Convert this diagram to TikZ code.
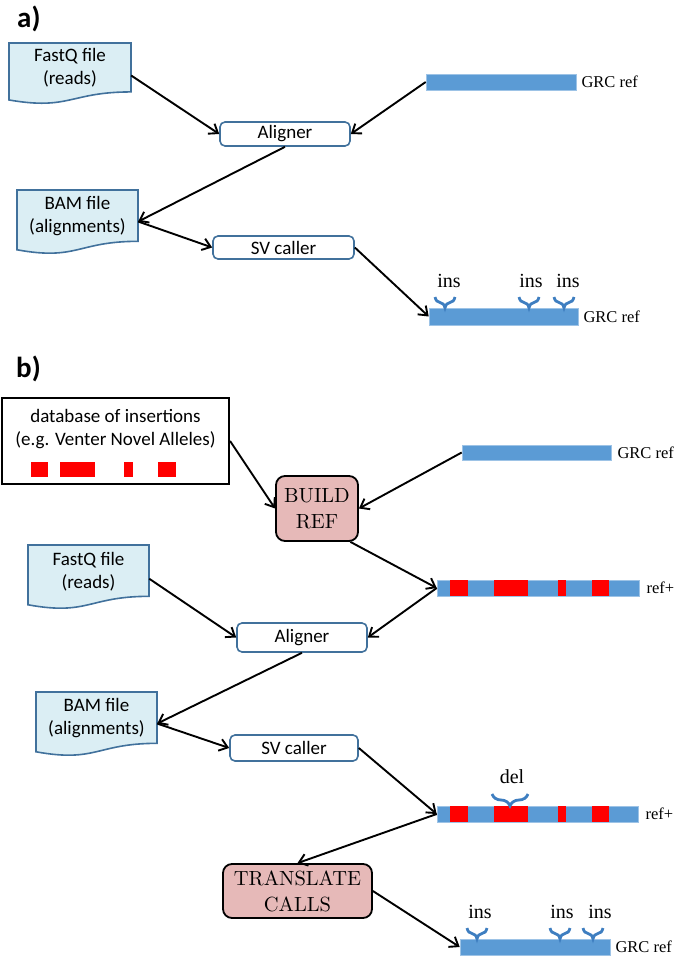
\documentclass[tikz,border=0pt]{standalone}
\usepackage{fontspec}
\usepackage{tikz}
\usetikzlibrary{arrows.meta, positioning, decorations.pathreplacing}

\newfontfamily\calibrifont{Carlito}
\newfontfamily\timesfont{Liberation Serif}
\newfontfamily\cmfont{lmroman10-regular}[Extension=.otf]

\definecolor{docblue}{HTML}{DBEEF4}
\definecolor{lineblue}{HTML}{41719C}
\definecolor{barblue}{HTML}{5B9BD5}
\definecolor{barline}{HTML}{9DC3E6}
\definecolor{bracecol}{HTML}{3E7EC0}
\definecolor{insred}{HTML}{FF0000}
\definecolor{steppink}{HTML}{E6B9B8}

\tikzset{
  docline/.style={draw=lineblue, fill=docblue, line width=1.6pt},
  doctext/.style={font=\calibrifont\fontsize{19}{23}\selectfont, align=center, inner sep=0pt},
  procbox/.style={draw=lineblue, fill=white, line width=1.6pt, rounded corners=5pt,
    font=\calibrifont\fontsize{19}{23}\selectfont, inner sep=0pt},
  stepbox/.style={draw=black, fill=steppink, line width=1.8pt, rounded corners=9pt,
    align=center, font=\cmfont\fontsize{20.5}{26}\selectfont, text=black, inner sep=0pt},
  refbar/.style={draw=barline, fill=barblue, line width=0.6pt, inner sep=0pt},
  barlabel/.style={font=\timesfont\fontsize{16.5}{18}\selectfont, inner sep=0pt},
  svlabel/.style={font=\timesfont\fontsize{20}{22}\selectfont, inner sep=0pt},
  svbrace/.style={draw=bracecol, line width=2.8pt, decorate, decoration={brace, mirror, amplitude=#1}},
  svbrace/.default=11pt,
  conn/.style={-{Straight Barb[length=8pt, width=12pt]}, line width=1.9pt},
  paneltag/.style={font=\calibrifont\bfseries\fontsize{29}{30}\selectfont, inner sep=0pt, anchor=west}
}

% document shape: name, left, top, width, height, text
\newcommand{\docfile}[6]{%
  \draw[docline] (#2,#3) -- ({#2+#4},#3) -- ({#2+#4},{#3+0.802*#5})
    .. controls ({#2+0.5*#4},{#3+0.802*#5}) and ({#2+0.5*#4},{#3+1.107*#5}) .. (#2,{#3+0.934*#5}) -- cycle;
  \node[doctext, minimum width=#4pt, minimum height={0.8*#5pt}] (#1) at ({#2+0.5*#4},{#3+0.41*#5}) {#6};
}

\begin{document}
\begin{tikzpicture}[x=1pt, y=-1pt]

\useasboundingbox (0,0) rectangle (680,957);

%%%%%%%%%% panel a %%%%%%%%%%
\node[paneltag] (taga) at (17,19) {a)};

% inputs
\docfile{fqa}{9}{43}{122}{61}{FastQ file\\(reads)}
\docfile{bama}{17}{190}{121}{64}{BAM file\\(alignments)}

% tools
\node[procbox, minimum width=130pt, minimum height=24pt] (aligna) at (285,134) {Aligner};
\node[procbox, minimum width=141pt, minimum height=23pt] (sva) at (283.5,247.5) {SV caller};

% reference bars
\node[refbar, minimum width=150pt, minimum height=16pt] (gra1) at (501,82) {};
\node[barlabel, anchor=west, right=5pt of gra1] (gra1lab) {GRC ref};
\node[refbar, minimum width=149pt, minimum height=17pt] (gra2) at (503.5,316.5) {};
\node[barlabel, anchor=west, right=5pt of gra2] (gra2lab) {GRC ref};

% insertion calls
\foreach \xb/\xl [count=\i] in {445/449, 529/531, 564/568} {
  \draw[svbrace] ({\xb-10},297) -- ({\xb+10},297);
  \node[svlabel] (insa\i) at (\xl,281) {ins};
}

% connectors
\draw[conn] (fqa.-7) -- (aligna.west);
\draw[conn] (gra1.west) -- (aligna.east);
\draw[conn] (aligna.south) -- (bama.-5);
\draw[conn] (bama.-5) -- (sva.west);
\draw[conn] (sva.east) -- (gra2.west);

%%%%%%%%%% panel b %%%%%%%%%%
\node[paneltag] (tagb) at (16,369) {b)};

% insertion database
\node[draw=black, line width=2.2pt, minimum width=227pt, minimum height=86pt] (db) at (115.5,441) {};
\node[doctext] (dbtext) at (115.5,429.5) {database of insertions\\(e.g. Venter Novel Alleles)};
\foreach \xa/\xb in {31/48, 60/95, 124/133, 158/176}
  \fill[insred] (\xa,462) rectangle (\xb,477);

% build step
\node[stepbox, minimum width=82pt, minimum height=65pt] (build) at (317,508.5) {BUILD\\REF};

% inputs
\docfile{fqb}{28}{545}{121}{64}{FastQ file\\(reads)}
\docfile{bamb}{36}{692}{121}{64}{BAM file\\(alignments)}

% tools
\node[procbox, minimum width=130pt, minimum height=29pt] (alignb) at (302,637.5) {Aligner};
\node[procbox, minimum width=128pt, minimum height=26pt] (svb) at (294,748) {SV caller};

% translate step
\node[stepbox, minimum width=149pt, minimum height=54pt] (trans) at (297.5,891) {TRANSLATE\\CALLS};

% reference bars
\node[refbar, minimum width=149pt, minimum height=15pt] (grb1) at (536.5,452.5) {};
\node[barlabel, anchor=west, right=6pt of grb1] (grb1lab) {GRC ref};
\node[refbar, minimum width=202pt, minimum height=16pt] (refpa) at (538,588) {};
\node[barlabel, anchor=west, right=7pt of refpa] (refpalab) {ref+};
\node[refbar, minimum width=201pt, minimum height=16pt] (refpb) at (537.5,814) {};
\node[barlabel, anchor=west, right=7pt of refpb] (refpblab) {ref+};
\node[refbar, minimum width=150pt, minimum height=16pt] (grb2) at (535,947) {};
\node[barlabel, anchor=west, right=5pt of grb2] (grb2lab) {GRC ref};

% inserted sequences on ref+
\foreach \xa/\xb in {13/31, 57/91, 121/129, 155/172} {
  \fill[insred] ([xshift=\xa]refpa.south west) rectangle ([xshift=\xb]refpa.north west);
  \fill[insred] ([xshift=\xa]refpb.south west) rectangle ([xshift=\xb]refpb.north west);
}

% deletion call
\draw[svbrace=12pt] (492,794) -- (528,794);
\node[svlabel] (delb) at (512,777) {del};

% translated insertion calls
\foreach \xb/\xl [count=\i] in {477/480, 560/562, 593/600} {
  \draw[svbrace] ({\xb-10},928) -- ({\xb+10},928);
  \node[svlabel] (insb\i) at (\xl,912) {ins};
}

% connectors
\draw[conn] (db.east) -- (build.west);
\draw[conn] (grb1.west) -- (build.east);
\draw[conn] (build.-45) -- (refpa.west);
\draw[conn] (fqb.-7) -- (alignb.west);
\draw[conn] (refpa.west) -- (alignb.east);
\draw[conn] (alignb.south) -- (bamb.-5);
\draw[conn] (bamb.-5) -- (svb.west);
\draw[conn] (svb.east) -- (refpb.west);
\draw[conn] (refpb.west) -- (trans.north);
\draw[conn] (trans.east) -- (grb2.west);

\end{tikzpicture}
\end{document}
